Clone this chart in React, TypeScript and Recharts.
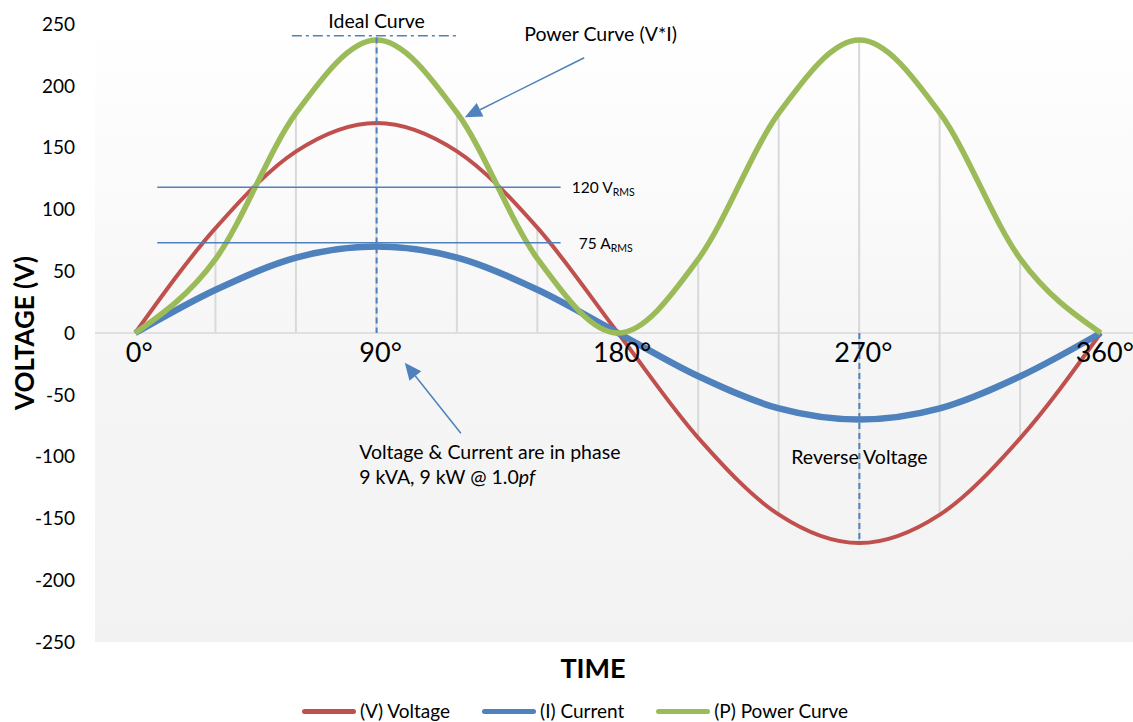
import { ComposedChart, Line, Bar, XAxis, YAxis, CartesianGrid, ReferenceLine, ReferenceDot } from 'recharts';

const degrees = [0, 30, 60, 90, 120, 150, 180, 210, 240, 270, 300, 330, 360];
const voltage = [0, 85, 147, 170, 147, 85, 0, -85, -147, -170, -147, -85, 0];
const current = [0, 35, 61, 70, 61, 35, 0, -35, -61, -70, -61, -35, 0];
const power = [0, 60, 178, 237, 178, 60, 0, 60, 178, 237, 178, 60, 0];

const yTicks = [250, 200, 150, 100, 50, 0, -50, -100, -150, -200, -250];
const xTickValues = [0, 90, 180, 270, 360];
const xTickLabels = ['0°', '90°', '180°', '270°', '360°'];

const seriesKeys = ['voltage', 'current', 'power'];
const seriesNames = ['(V) Voltage', '(I) Current', '(P) Power Curve'];
const seriesColors = ['#C0504D', '#4F81BD', '#9BBB59'];
const seriesWidths = [4, 6.5, 5.5];

const BLUE = '#4F81BD';
const FONT = 'Lato, "Open Sans", sans-serif';

const rows = degrees.map((deg, i) => ({
  deg,
  voltage: voltage[i],
  current: current[i],
  power: power[i],
  drop: [Math.min(0, voltage[i], current[i], power[i]), Math.max(0, voltage[i], current[i], power[i])],
}));

const arrowShape = (p: any) => {
  const { x1, y1, x2, y2 } = p;
  const dx = x2 - x1;
  const dy = y2 - y1;
  const len = Math.hypot(dx, dy) || 1;
  const ux = dx / len;
  const uy = dy / len;
  const head = 17;
  const half = 7.5;
  const bx = x2 - ux * head;
  const by = y2 - uy * head;
  const pts = `${x2},${y2} ${bx - uy * half},${by + ux * half} ${bx + uy * half},${by - ux * half}`;
  return (
    <g>
      <line x1={x1} y1={y1} x2={bx} y2={by} stroke={BLUE} strokeWidth={1.5} />
      <polygon points={pts} fill={BLUE} />
    </g>
  );
};

const textAt = (content: any, anchor = 'middle', size = 19.5, dx = 0, dy = 0) => (p: any) => (
  <text
    x={p.cx + dx}
    y={p.cy + dy}
    textAnchor={anchor}
    dominantBaseline="central"
    fontSize={size}
    fill="#000"
    fontFamily={FONT}
  >
    {content}
  </text>
);

const rmsLabel = (main: string, sub: string) => (
  <>
    <tspan>{main}</tspan>
    <tspan fontSize={10.5} dy={5}>{sub}</tspan>
  </>
);

export default function App() {
  return (
    <div style={{ position: 'absolute', left: 0, top: 0, width: 1133, height: 722, overflow: 'hidden', fontFamily: FONT, background: '#fff' }}>
      <ComposedChart width={1141} height={722} data={rows} margin={{ top: 24, right: 0, left: 0, bottom: 0 }}>
        <defs>
          <linearGradient id="plotBg" x1="0" y1="0" x2="0" y2="1">
            <stop offset="0" stopColor="#ffffff" />
            <stop offset="0.5" stopColor="#f6f6f6" />
            <stop offset="1" stopColor="#f2f2f2" />
          </linearGradient>
        </defs>
        <CartesianGrid horizontal={false} vertical={false} fill="url(#plotBg)" fillOpacity={1} />
        <XAxis
          dataKey="deg"
          type="number"
          domain={[-15, 375]}
          ticks={xTickValues}
          tick={false}
          axisLine={false}
          tickLine={false}
          height={80}
          label={{
            content: (p: any) => (
              <text x={593} y={p.viewBox.y + 25} textAnchor="middle" dominantBaseline="central" fontSize={27} fontWeight={700} fill="#000" fontFamily={FONT}>
                TIME
              </text>
            ),
          }}
        />
        <YAxis
          type="number"
          domain={[-250, 250]}
          ticks={yTicks}
          interval={0}
          width={95}
          axisLine={false}
          tickLine={false}
          tickMargin={14}
          tick={{ fontSize: 19, fill: '#000', fontFamily: FONT }}
          label={{
            content: (p: any) => {
              const cy = p.viewBox.y + p.viewBox.height / 2;
              return (
                <text x={24} y={cy} transform={`rotate(-90 24 ${cy})`} textAnchor="middle" dominantBaseline="central" fontSize={26} fontWeight={700} fill="#000" fontFamily={FONT}>
                  VOLTAGE (V)
                </text>
              );
            },
          }}
        />
        <ReferenceLine y={0} stroke="#d9d9d9" strokeWidth={1.5} />
        <Bar dataKey="drop" barSize={2} fill="#d9d9d9" isAnimationActive={false} />

        {seriesKeys.map((k, i) => (
          <Line
            key={k}
            dataKey={k}
            name={seriesNames[i]}
            type="monotone"
            stroke={seriesColors[i]}
            strokeWidth={seriesWidths[i]}
            dot={false}
            activeDot={false}
            isAnimationActive={false}
          />
        ))}

        {/* annotations */}
        <ReferenceLine segment={[{ x: 8.2, y: 118 }, { x: 158.6, y: 118 }]} stroke={BLUE} strokeWidth={1.5} />
        <ReferenceLine segment={[{ x: 8.2, y: 73 }, { x: 158.6, y: 73 }]} stroke={BLUE} strokeWidth={1.5} />
        <ReferenceLine segment={[{ x: 58.4, y: 240.5 }, { x: 120.2, y: 240.5 }]} stroke={BLUE} strokeWidth={1.5} strokeDasharray="10 4 3 4" ifOverflow="visible" />
        <ReferenceLine segment={[{ x: 90, y: 239 }, { x: 90, y: 0 }]} stroke={BLUE} strokeWidth={2} strokeDasharray="6 4" />
        <ReferenceLine segment={[{ x: 270, y: 0 }, { x: 270, y: -170 }]} stroke={BLUE} strokeWidth={2} strokeDasharray="6 4" />
        <ReferenceLine segment={[{ x: 167.4, y: 222.7 }, { x: 122.9, y: 174.5 }]} shape={arrowShape} />
        <ReferenceLine segment={[{ x: 121.4, y: -81.1 }, { x: 100.5, y: -24 }]} shape={arrowShape} />

        <ReferenceDot x={90} y={253} r={0} ifOverflow="visible" shape={textAt('Ideal Curve')} />
        <ReferenceDot x={173.5} y={242.7} r={0} ifOverflow="visible" shape={textAt('Power Curve (V*I)')} />
        <ReferenceDot x={162.8} y={118} r={0} ifOverflow="visible" shape={textAt(rmsLabel('120 V', 'RMS'), 'start', 15.5)} />
        <ReferenceDot x={165.4} y={73} r={0} ifOverflow="visible" shape={textAt(rmsLabel('75 A', 'RMS'), 'start', 15.5)} />
        <ReferenceDot x={270} y={-100} r={0} ifOverflow="visible" shape={textAt('Reverse Voltage')} />
        <ReferenceDot x={83.5} y={-95.5} r={0} ifOverflow="visible" shape={textAt('Voltage & Current are in phase', 'start')} />
        <ReferenceDot
          x={83.5}
          y={-115.7}
          r={0}
          ifOverflow="visible"
          shape={textAt(
            <>
              <tspan>9 kVA, 9 kW @ 1.0</tspan>
              <tspan fontStyle="italic">pf</tspan>
            </>,
            'start'
          )}
        />

        {xTickValues.map((v, i) => (
          <ReferenceDot key={v} x={v} y={0} r={0} ifOverflow="visible" shape={textAt(xTickLabels[i], 'middle', 27, 4, 18)} />
        ))}
      </ComposedChart>

      <div style={{ position: 'absolute', top: 699, left: 0, width: 1150, display: 'flex', justifyContent: 'center', alignItems: 'center', fontSize: 19, lineHeight: '24px', color: '#000' }}>
        {seriesNames.map((n, i) => (
          <div key={n} style={{ display: 'flex', alignItems: 'center', marginLeft: i === 0 ? 0 : 32 }}>
            <span style={{ display: 'inline-block', width: 54, height: 5, borderRadius: 3, background: seriesColors[i], marginRight: 4 }} />
            <span>{n}</span>
          </div>
        ))}
      </div>
    </div>
  );
}
